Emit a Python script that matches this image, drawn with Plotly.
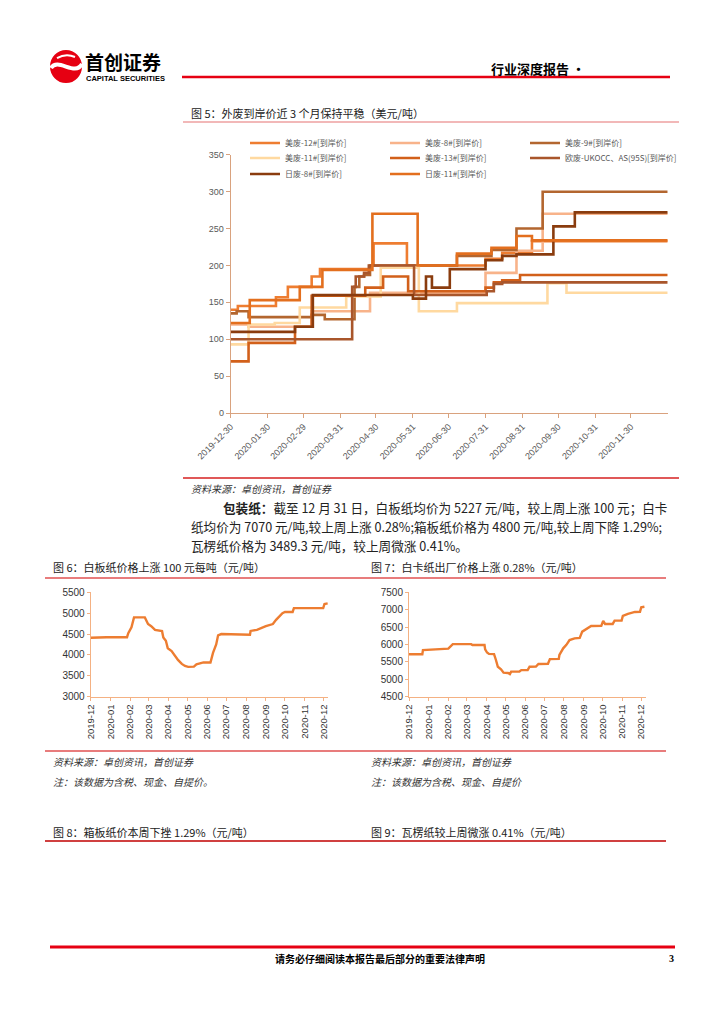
import plotly.graph_objects as go

W, H = 724, 1024
OFF = 8  # page body margin offset of the rendered figure
def px(x): return (x - OFF) / W
def py(y): return 1 - (y - OFF) / H

CJK = "Noto Sans CJK SC"

# ---------------- Figure 5 data (step series, USD/ton) ----------------
series_names = ["美废-12#[到岸价]", "美废-8#[到岸价]", "美废-9#[到岸价]",
                "美废-11#[到岸价]", "美废-13#[到岸价]", "欧废-UKOCC、AS(95S)[到岸价]",
                "日废-8#[到岸价]", "日废-11#[到岸价]"]

us12_dates = ['2019-12-30','2020-01-05','2020-02-06','2020-02-16','2020-03-07','2020-03-14','2020-04-26','2020-04-28','2020-05-26','2020-07-31','2020-08-14','2020-09-08','2020-12-31']
us12_vals = [140,145,157,171,185,195,200,230,200,209,217,233,233]

us8_dates = ['2019-12-30','2020-01-14','2020-03-07','2020-04-25','2020-07-31','2020-08-26','2020-09-17','2020-12-31']
us8_vals = [120,117,138,163,190,220,270,270]

us9_dates = ['2019-12-30','2020-01-04','2020-01-14','2020-03-07','2020-03-18','2020-04-12','2020-04-16','2020-04-20','2020-04-25','2020-07-07','2020-08-05','2020-08-26','2020-09-17','2020-12-31']
us9_vals = [135,138,130,133,127,171,185,187,200,213,221,250,300,300]

us11_dates = ['2019-12-30','2020-01-14','2020-02-05','2020-02-26','2020-04-05','2020-05-04','2020-06-05','2020-07-07','2020-09-21','2020-10-07','2020-12-31']
us11_vals = [93,120,122,143,158,197,138,149,176,163,163]

us13_dates = ['2019-12-30','2020-01-14','2020-02-22','2020-03-07','2020-04-21','2020-05-06','2020-05-27','2020-07-31','2020-08-07','2020-08-14','2020-08-29','2020-12-31']
us13_vals = [70,95,117,159,170,185,165,170,177,180,187,187]

eu_dates = ['2019-12-30','2020-04-10','2020-04-13','2020-04-20','2020-04-24','2020-06-01','2020-08-01','2020-08-07','2020-08-14','2020-12-31']
eu_vals = [100,171,185,190,200,160,165,175,177,177]

jp8_dates = ['2019-12-30','2020-02-22','2020-03-08','2020-05-31','2020-06-11','2020-06-16','2020-07-01','2020-07-31','2020-08-14','2020-08-26','2020-09-26','2020-10-14','2020-12-31']
jp8_vals = [110,117,160,155,185,170,195,207,213,215,253,272,272]

jp11_dates = ['2019-12-30','2020-01-15','2020-02-26','2020-03-16','2020-04-27','2020-06-04','2020-07-07','2020-08-05','2020-08-26','2020-09-08','2020-12-31']
jp11_vals = [122,153,171,194,270,200,216,224,240,234,234]

main_ticks = ['2019-12-30','2020-01-30','2020-02-29','2020-03-31','2020-04-30','2020-05-31',
              '2020-06-30','2020-07-31','2020-08-31','2020-09-30','2020-10-31','2020-11-30']

# ---------------- Figure 6 data (白板纸, 元/吨) ----------------
wb_dates = ['2019-12-01','2019-12-26','2020-01-27','2020-01-29','2020-02-03','2020-02-07','2020-02-24','2020-02-26',
            '2020-02-29','2020-03-05','2020-03-11','2020-03-22','2020-03-24','2020-03-28','2020-03-31','2020-04-06',
            '2020-04-11','2020-04-16','2020-04-22','2020-04-27','2020-05-02','2020-05-11','2020-05-15','2020-05-21',
            '2020-05-26','2020-06-06','2020-06-08','2020-06-10','2020-06-15','2020-06-18','2020-06-23','2020-07-22',
            '2020-08-07','2020-08-08','2020-08-18','2020-09-01','2020-09-12','2020-09-17','2020-09-22','2020-09-27',
            '2020-10-01','2020-10-13','2020-10-15','2020-11-30','2020-12-02','2020-12-07']
wb_vals = [4410,4425,4425,4520,4660,4900,4900,4830,
           4740,4690,4600,4570,4420,4340,4160,4094,
           3975,3880,3785,3735,3715,3720,3775,3790,
           3820,3820,3960,4050,4250,4470,4500,4490,
           4485,4575,4600,4690,4740,4840,4930,5000,
           5030,5030,5120,5120,5220,5235]

# ---------------- Figure 7 data (白卡纸, 元/吨) ----------------
wc_dates = ['2019-12-01','2019-12-22','2019-12-23','2020-01-30','2020-02-01','2020-02-08','2020-03-08','2020-03-10',
            '2020-03-29','2020-03-30','2020-04-02','2020-04-05','2020-04-13','2020-04-16','2020-04-19','2020-04-24',
            '2020-04-28','2020-05-05','2020-05-08','2020-05-10','2020-05-23','2020-05-26','2020-06-05','2020-06-08',
            '2020-06-18','2020-06-22','2020-07-07','2020-07-10','2020-07-24','2020-07-25','2020-07-31','2020-08-05',
            '2020-08-10','2020-08-18','2020-08-26','2020-08-30','2020-09-05','2020-09-13','2020-09-29','2020-10-02',
            '2020-10-05','2020-10-17','2020-10-20','2020-10-31','2020-11-02','2020-11-10','2020-11-21','2020-11-29',
            '2020-12-01','2020-12-06']
wc_vals = [5720,5720,5840,5860,5880,6010,6010,5985,
           5985,5860,5770,5730,5725,5555,5360,5285,
           5190,5180,5150,5220,5225,5265,5265,5360,
           5365,5440,5445,5580,5585,5700,5890,5990,
           6130,6175,6190,6370,6440,6530,6535,6680,
           6590,6590,6685,6690,6820,6880,6935,6940,
           7070,7085]

small_ticks = ['2019-12-01','2020-01-01','2020-02-01','2020-03-01','2020-04-01','2020-05-01','2020-06-01',
               '2020-07-01','2020-08-01','2020-09-01','2020-10-01','2020-11-01','2020-12-01']
small_ticktext = ['2019-12','2020-01','2020-02','2020-03','2020-04','2020-05','2020-06',
                  '2020-07','2020-08','2020-09','2020-10','2020-11','2020-12']

# ---------------- styles ----------------
main_colors = ["#EE7D31", "#F8B38A", "#B3662F", "#FFD9A0", "#D2601A", "#A9562B", "#8A3C0E", "#E36F1E"]
legend_ids = ["legend", "legend2", "legend3", "legend4", "legend5", "legend6", "legend7", "legend8"]
legend_pos = [(245, 143), (385, 143), (525, 143),
              (245, 158), (385, 158), (525, 158),
              (245, 174), (385, 174)]
main_data = [(us12_dates, us12_vals), (us8_dates, us8_vals), (us9_dates, us9_vals),
             (us11_dates, us11_vals), (us13_dates, us13_vals), (eu_dates, eu_vals),
             (jp8_dates, jp8_vals), (jp11_dates, jp11_vals)]

fig = go.Figure()
for name, (d, v), c, lg in zip(series_names, main_data, main_colors, legend_ids):
    fig.add_trace(go.Scatter(x=d, y=v, name=name, mode="lines", legend=lg,
                             line=dict(shape="hv", width=2.6, color=c),
                             xaxis="x", yaxis="y", hoverinfo="skip"))

fig.add_trace(go.Scatter(x=wb_dates, y=wb_vals, mode="lines", showlegend=False,
                         line=dict(color="#ED7D31", width=2.4), xaxis="x2", yaxis="y2"))
fig.add_trace(go.Scatter(x=wc_dates, y=wc_vals, mode="lines", showlegend=False,
                         line=dict(color="#ED7D31", width=2.4), xaxis="x3", yaxis="y3"))

AX = "#D9A27E"
AX2 = "#F4B183"
tick_font = dict(size=9, color="#595959", family="Liberation Sans")
tick_font2 = dict(size=10, color="#333333", family="Liberation Sans")
xfont2 = dict(size=9.5, color="#333333", family="Liberation Sans")

legend_common = dict(orientation="h", xanchor="left", yanchor="middle",
                     itemwidth=30, bgcolor="rgba(0,0,0,0)", borderwidth=0,
                     font=dict(size=8, color="#595959", family=CJK), itemclick=False,
                     itemdoubleclick=False)

layout_legends = {}
for lg, (lx, ly) in zip(legend_ids, legend_pos):
    layout_legends[lg] = dict(x=px(lx), y=py(ly), **legend_common)

common_axis = dict(showgrid=False, zeroline=False, automargin=False, showline=True, ticks="outside")

fig.update_layout(
    template="none",
    width=W, height=H, autosize=False,
    margin=dict(l=0, r=0, t=0, b=0, pad=0),
    paper_bgcolor="white", plot_bgcolor="white",
    showlegend=True,
    xaxis=dict(domain=[px(230.7), px(667.7)], anchor="y", type="date",
               range=["2019-12-30", "2020-12-31"], tickmode="array",
               tickvals=main_ticks, ticktext=main_ticks, tickangle=-45,
               ticklen=4, tickcolor=AX, linecolor=AX, tickfont=tick_font, **common_axis),
    yaxis=dict(domain=[py(413), py(154.8)], anchor="x", range=[0, 350], dtick=50, tick0=0,
               ticklen=4, tickcolor=AX, linecolor=AX, tickfont=tick_font, **common_axis),
    xaxis2=dict(domain=[px(90.7), px(328.3)], anchor="y2", type="date",
                range=["2019-12-01", "2020-12-08"], tickmode="array",
                tickvals=small_ticks, ticktext=small_ticktext, tickangle=-90,
                ticklen=3, tickcolor=AX2, linecolor=AX2, tickfont=xfont2, **common_axis),
    yaxis2=dict(domain=[py(696.7), py(592.3)], anchor="x2", range=[3000, 5500], dtick=500, tick0=0,
                ticklen=3, tickcolor=AX2, linecolor=AX2, tickfont=tick_font2, **common_axis),
    xaxis3=dict(domain=[px(409), px(645.7)], anchor="y3", type="date",
                range=["2019-12-01", "2020-12-08"], tickmode="array",
                tickvals=small_ticks, ticktext=small_ticktext, tickangle=-90,
                ticklen=3, tickcolor=AX2, linecolor=AX2, tickfont=xfont2, **common_axis),
    yaxis3=dict(domain=[py(696.7), py(592.3)], anchor="x3", range=[4500, 7500], dtick=500, tick0=0,
                ticklen=3, tickcolor=AX2, linecolor=AX2, tickfont=tick_font2, **common_axis),
    **layout_legends,
)

def hline(x0, x1, y, color, width):
    fig.add_shape(type="line", xref="paper", yref="paper", x0=px(x0), x1=px(x1),
                  y0=py(y), y1=py(y), line=dict(color=color, width=width))

def text(x, y, s, size=11, color="#000000", bold=False, italic=False, xanchor="left", family=CJK):
    fig.add_annotation(x=px(x), y=py(y), xref="paper", yref="paper", text=s, showarrow=False,
                       xanchor=xanchor, yanchor="middle", borderpad=0,
                       font=dict(size=size, color=color, family=family,
                                 weight="bold" if bold else "normal",
                                 style="italic" if italic else "normal"))

def path(points_cmd):
    out = []
    for tok in points_cmd:
        if isinstance(tok, str):
            out.append(tok)
        else:
            out.append(f"{px(tok[0]):.5f},{py(tok[1]):.5f}")
    return " ".join(out)

# ---- header / logo ----
fig.add_shape(type="circle", xref="paper", yref="paper", x0=px(50), x1=px(82), y0=py(83), y1=py(50),
              fillcolor="#E60012", line=dict(width=0))
fig.add_shape(type="path", xref="paper", yref="paper",
              path=path(["M", (51, 68), "C", (58, 57), (75, 77), (82, 64)]),
              line=dict(color="white", width=4))
fig.add_shape(type="path", xref="paper", yref="paper",
              path=path(["M", (57, 58), "Q", (66, 53), (75, 57)]),
              line=dict(color="white", width=2))
text(84, 61, "首创证券", size=19, bold=True)
text(85, 78.5, "CAPITAL SECURITIES", size=7.5, bold=True, family="Liberation Sans")
text(490, 68, "行业深度报告 ·", size=13, bold=True)
hline(182, 670, 77, "#E60012", 2.5)

# ---- figure 5 ----
text(190, 113, "图 5：外废到岸价近 3 个月保持平稳（美元/吨）", size=11, color="#222222")
hline(183, 679, 122, "#E57373", 1.2)
hline(183, 679, 478, "#D62020", 1.5)
text(190, 488, "资料来源：卓创资讯，首创证券", size=10, color="#333333", italic=True)

# ---- paragraph ----
text(222, 507, "<b>包装纸：</b>截至 12 月 31 日，白板纸均价为 5227 元/吨，较上周上涨 100 元；白卡", size=12.6, color="#222222")
text(190, 526, "纸均价为 7070 元/吨,较上周上涨 0.28%;箱板纸价格为 4800 元/吨,较上周下降 1.29%;", size=12.6, color="#222222")
text(190, 545, "瓦楞纸价格为 3489.3 元/吨，较上周微涨 0.41%。", size=12.6, color="#222222")

# ---- figures 6 / 7 ----
text(52, 567, "图 6：白板纸价格上涨 100 元每吨（元/吨）", size=11, color="#222222")
text(370, 567, "图 7：白卡纸出厂价格上涨 0.28%（元/吨）", size=11, color="#222222")
hline(45, 666, 578, "#E05050", 1.5)
hline(45, 666, 751, "#E05050", 1.5)
text(52, 761, "资料来源：卓创资讯，首创证券", size=10, color="#333333", italic=True)
text(370, 761, "资料来源：卓创资讯，首创证券", size=10, color="#333333", italic=True)
text(52, 781, "注：该数据为含税、现金、自提价。", size=10, color="#333333", italic=True)
text(370, 781, "注：该数据为含税、现金、自提价", size=10, color="#333333", italic=True)

# ---- figures 8 / 9 titles ----
text(52, 832, "图 8：箱板纸价本周下挫 1.29%（元/吨）", size=11, color="#222222")
text(370, 832, "图 9：瓦楞纸较上周微涨 0.41%（元/吨）", size=11, color="#222222")
hline(45, 666, 841, "#C00000", 1.5)

# ---- footer ----
hline(50, 675, 947, "#E60012", 3)
text(380, 958, "请务必仔细阅读本报告最后部分的重要法律声明", size=10, bold=True, xanchor="center")
text(668, 958, "3", size=10, bold=True, family="Liberation Serif")

fig.write_html("out.html")
